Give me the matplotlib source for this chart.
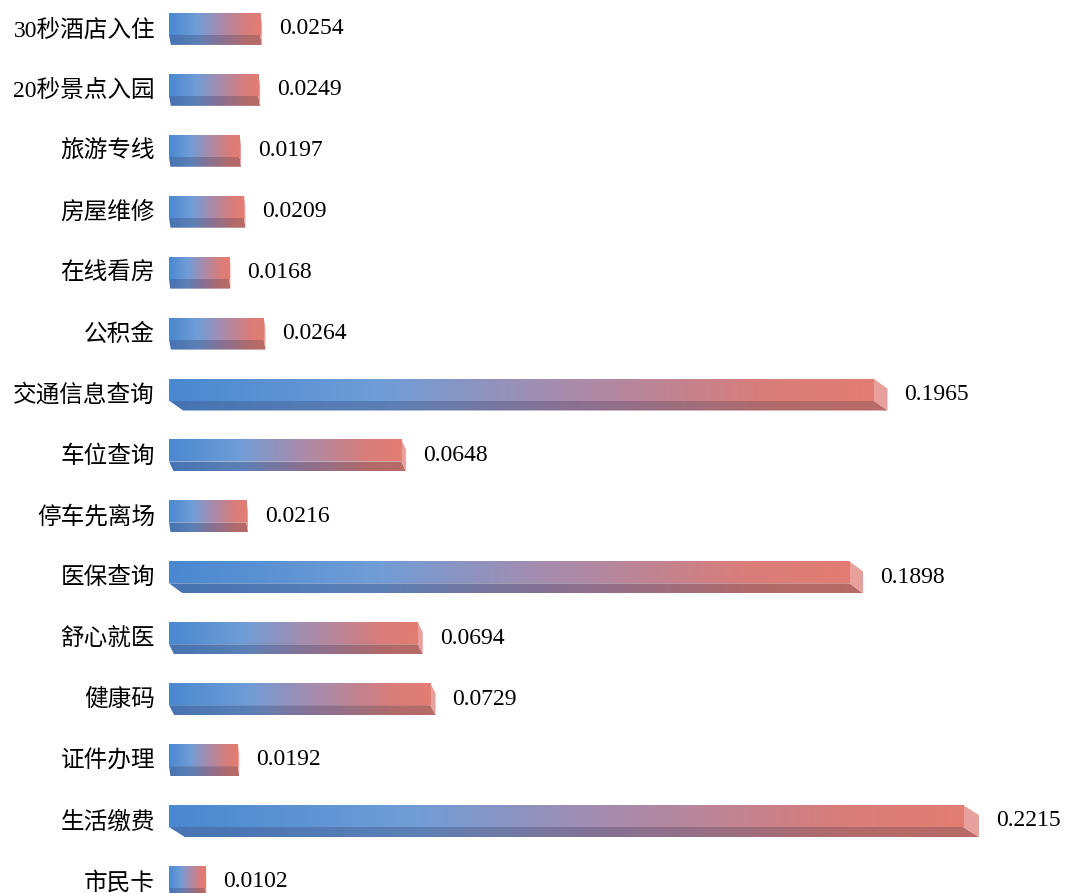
import numpy as np
import matplotlib.pyplot as plt
from matplotlib.colors import LinearSegmentedColormap
from matplotlib.patches import Polygon

##### Data (top to bottom) #####

categories = ['30秒酒店入住', '20秒景点入园', '旅游专线', '房屋维修', '在线看房', '公积金',
              '交通信息查询', '车位查询', '停车先离场', '医保查询', '舒心就医', '健康码',
              '证件办理', '生活缴费', '市民卡']
values = [0.0254, 0.0249, 0.0197, 0.0209, 0.0168, 0.0264,
          0.1965, 0.0648, 0.0216, 0.1898, 0.0694, 0.0729,
          0.0192, 0.2215, 0.0102]

##### Style #####

front_cmap = LinearSegmentedColormap.from_list(
    'front', [(0, '#4A88CF'), (0.3, '#6F9DD7'), (0.55, '#A58CAE'), (0.85, '#D97D7A'), (1, '#E27D73')])
bottom_cmap = LinearSegmentedColormap.from_list(
    'bottom', [(0, '#4673B2'), (0.3, '#5B80B6'), (0.55, '#887193'), (0.85, '#B26A69'), (1, '#B86B66')])
side_color = '#E8A09C'

px = 1 / 3585.0     # one pixel in value units
row = 60.93         # pixels per row
dy = 10 / row       # depth of the bottom face (rows)
f_top, f_bot = -0.23, 0.13

label_font = ['Liberation Serif', 'Noto Sans CJK SC']

fig = plt.figure(figsize=(10.65, 8.93), dpi=100)
ax = fig.add_axes([0, 0, 1, 1])
ax.axis('off')

grad = np.linspace(0, 1, 256).reshape(1, -1)

for i, (cat, v) in enumerate(zip(categories, values)):
    yt, yb = i + f_top, i + f_bot
    dx = 0.02 * v   # slant grows with bar length

    # bottom face
    poly = Polygon([(0, yb), (v, yb), (v + dx, yb + dy), (dx, yb + dy)], closed=True,
                   facecolor='none', edgecolor='none')
    ax.add_patch(poly)
    im = ax.imshow(grad, cmap=bottom_cmap, aspect='auto', extent=[0, v + dx, yb + dy, yb],
                   interpolation='bilinear', zorder=2)
    im.set_clip_path(poly)

    # right side face
    ax.add_patch(Polygon([(v, yt), (v + dx, yt + dy), (v + dx, yb + dy), (v, yb)], closed=True,
                         facecolor=side_color, edgecolor='none', zorder=2))

    # front face
    ax.imshow(grad, cmap=front_cmap, aspect='auto', extent=[0, v, yb, yt],
              interpolation='bilinear', zorder=3)

    ax.text(-14 * px, i + 0.05, cat, ha='right', va='center', fontsize=17, family=label_font)
    ax.text(v + dx + 17 * px, i + 0.03, '%.4f' % v, ha='left', va='center', fontsize=17,
            family=label_font)

ax.set_xlim(-169 * px, (1065 - 169) * px)
ax.set_ylim((893 - 27) / row, -27 / row)

fig.savefig('out.png', dpi=100)
